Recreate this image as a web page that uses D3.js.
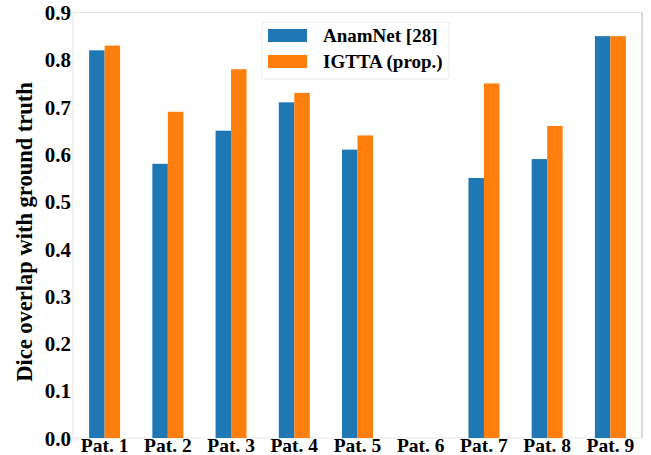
<!DOCTYPE html>
<html>
<head>
<meta charset="utf-8">
<script src="https://cdn.jsdelivr.net/npm/d3@7"></script>
<style>
  html, body { margin: 0; padding: 0; background: #fff; }
  svg { display: block; }
  text { font-family: "Liberation Serif", "Times New Roman", serif; font-weight: bold; fill: #000; }
</style>
</head>
<body>
<svg id="chart" width="651" height="455"></svg>
<script>
// Per-patient Dice scores for the two segmentation methods
const patients = ["Pat. 1", "Pat. 2", "Pat. 3", "Pat. 4", "Pat. 5", "Pat. 6", "Pat. 7", "Pat. 8", "Pat. 9"];
const anamNet = [0.82, 0.58, 0.65, 0.71, 0.61, 0.0, 0.55, 0.59, 0.85];
const igtta   = [0.83, 0.69, 0.78, 0.73, 0.64, 0.0, 0.75, 0.66, 0.85];
const seriesNames = ["AnamNet [28]", "IGTTA (prop.)"];
const seriesColors = ["#1f77b4", "#ff7f0e"];
const yTicks = [0.0, 0.1, 0.2, 0.3, 0.4, 0.5, 0.6, 0.7, 0.8, 0.9];

const series = [anamNet, igtta];

const svg = d3.select("#chart");
const plotL = 73, plotR = 642, plotT = 12.5, plotB = 438;

const x = d3.scaleBand().domain(patients).range([plotL, plotR]).padding(0);
const y = d3.scaleLinear().domain([0, 0.9]).range([plotB, plotT]);
const barW = x.bandwidth() * 0.245;

// frame
svg.append("rect")
  .attr("x", plotL).attr("y", plotT)
  .attr("width", plotR - plotL).attr("height", plotB - plotT)
  .attr("fill", "none").attr("stroke", "#e6e6e6").attr("stroke-width", 1);
svg.append("line")
  .attr("x1", plotR).attr("x2", plotR).attr("y1", plotT).attr("y2", plotB)
  .attr("stroke", "#cccccc").attr("stroke-width", 1.2);

// bars
series.forEach((vals, si) => {
  svg.append("g").selectAll("rect")
    .data(vals)
    .join("rect")
    .attr("x", (d, i) => x(patients[i]) + x.bandwidth() / 2 + (si - 1) * barW)
    .attr("y", d => y(d))
    .attr("width", barW)
    .attr("height", d => y(0) - y(d))
    .attr("fill", seriesColors[si]);
});

// y axis
const yAxis = d3.axisLeft(y).tickValues(yTicks).tickFormat(d3.format(".1f")).tickSize(0).tickPadding(2);
const gy = svg.append("g").attr("transform", `translate(${plotL},0)`).call(yAxis);
gy.select(".domain").remove();
gy.selectAll("text")
  .style("font-family", '"Liberation Serif", serif')
  .style("font-weight", "bold")
  .style("font-size", "21px")
  .attr("dy", "0.34em");

// x axis
const xAxis = d3.axisBottom(x).tickSize(0);
const gx = svg.append("g").attr("transform", `translate(0,${plotB})`).call(xAxis);
gx.select(".domain").remove();
gx.selectAll("text")
  .style("font-family", '"Liberation Serif", serif')
  .style("font-weight", "bold")
  .style("font-size", "19.5px")
  .attr("y", 14)
  .attr("dy", 0);

// y axis title
svg.append("text")
  .attr("transform", "translate(32,232) rotate(-90)")
  .attr("text-anchor", "middle")
  .style("font-size", "22.5px")
  .text("Dice overlap with ground truth");

// legend
const lg = svg.append("g");
lg.append("rect")
  .attr("x", 262).attr("y", 22).attr("width", 187).attr("height", 57)
  .attr("rx", 3)
  .attr("fill", "#fff").attr("stroke", "#ececec");
seriesNames.forEach((name, i) => {
  const yy = 29 + i * 26;
  lg.append("rect")
    .attr("x", 268).attr("y", yy).attr("width", 39).attr("height", 13)
    .attr("fill", seriesColors[i]);
  lg.append("text")
    .attr("x", 323).attr("y", yy + 13)
    .style("font-size", "19px")
    .text(name);
});
</script>
</body>
</html>
